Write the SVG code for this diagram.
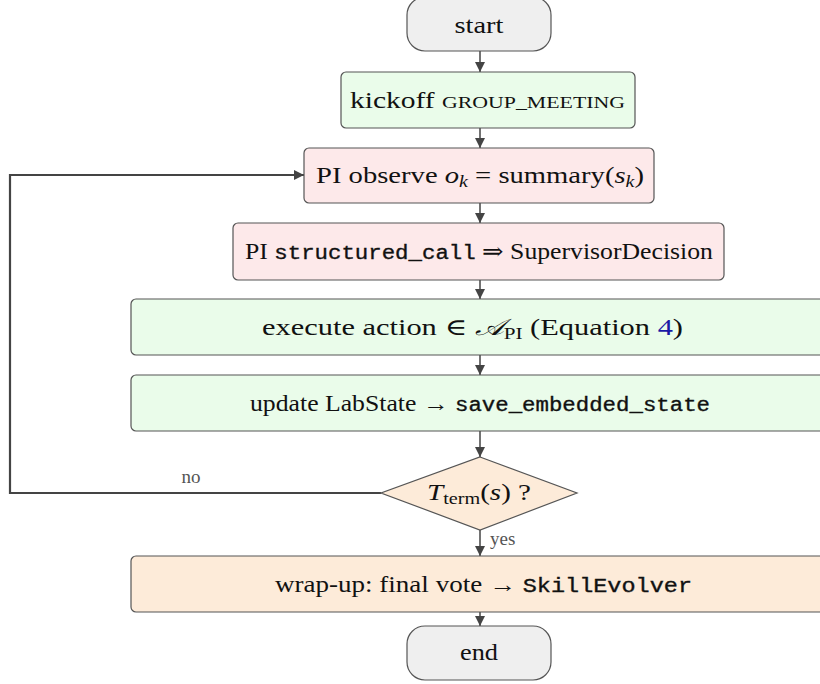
<svg xmlns="http://www.w3.org/2000/svg" width="820" height="684" viewBox="0 0 820 684">
  <defs>
    <marker id="arrow" viewBox="0 0 10 10" refX="10" refY="5" markerWidth="10" markerHeight="10" markerUnits="userSpaceOnUse" orient="auto">
      <path d="M0,0 L10,5 L0,10 z" fill="#444"/>
    </marker>
    <style>
      .box { stroke: #555; stroke-width: 1.2; }
      .term { fill: #efefef; }
      .green { fill: #eafcea; }
      .pink { fill: #fde9ea; }
      .peach { fill: #fdebd9; }
      .lbl { font-family: "Liberation Serif", "DejaVu Serif", serif; font-size: 23px; fill: #111; }
      .tt { font-family: "Liberation Mono", "DejaVu Sans Mono", monospace; font-size: 20px; stroke: #111; stroke-width: 0.35; }
      .it { font-style: italic; }
      .sub { font-size: 16px; }
      .sc { font-size: 17px; }
      .small { font-family: "Liberation Serif", "DejaVu Serif", serif; font-size: 19px; fill: #555; }
      .edge { fill: none; stroke: #444; stroke-width: 1.5; }
      .loop { fill: none; stroke: #444; stroke-width: 2.2; }
    </style>
  </defs>

  <!-- connectors -->
  <g id="connectors">
    <line class="edge" x1="480" y1="51" x2="480" y2="72" marker-end="url(#arrow)"/>
    <line class="edge" x1="480" y1="128" x2="480" y2="148" marker-end="url(#arrow)"/>
    <line class="edge" x1="480" y1="203" x2="480" y2="223" marker-end="url(#arrow)"/>
    <line class="edge" x1="480" y1="280" x2="480" y2="299" marker-end="url(#arrow)"/>
    <line class="edge" x1="480" y1="355" x2="480" y2="375" marker-end="url(#arrow)"/>
    <line class="edge" x1="480" y1="431" x2="480" y2="457" marker-end="url(#arrow)"/>
    <line class="edge" x1="480" y1="530" x2="480" y2="556" marker-end="url(#arrow)"/>
    <line class="edge" x1="480" y1="612" x2="480" y2="626" marker-end="url(#arrow)"/>
    <path class="loop" d="M381,493 H10 V175 H304" marker-end="url(#arrow)"/>
    <text class="small" x="191" y="483" text-anchor="middle">no</text>
    <text class="small" x="490" y="545">yes</text>
  </g>

  <!-- start -->
  <g id="start">
    <rect class="box term" x="407" y="-3" width="144" height="54" rx="18"/>
    <text class="lbl" x="479" y="33" text-anchor="middle" textLength="49" lengthAdjust="spacingAndGlyphs">start</text>
  </g>

  <!-- kickoff -->
  <g id="kickoff">
    <rect class="box green" x="341" y="72" width="294" height="56" rx="5"/>
    <text class="lbl" x="350" y="108" textLength="275" lengthAdjust="spacingAndGlyphs">kickoff <tspan class="sc">GROUP_MEETING</tspan></text>
  </g>

  <!-- observe -->
  <g id="observe">
    <rect class="box pink" x="304" y="148" width="350" height="55" rx="5"/>
    <text class="lbl" x="316" y="183" textLength="328" lengthAdjust="spacingAndGlyphs">PI observe  <tspan class="it">o</tspan><tspan class="sub it" dy="4">k</tspan><tspan dy="-4"> = summary(</tspan><tspan class="it">s</tspan><tspan class="sub it" dy="4">k</tspan><tspan dy="-4">)</tspan></text>
  </g>

  <!-- decision call -->
  <g id="structured">
    <rect class="box pink" x="233" y="223" width="491" height="57" rx="5"/>
    <text class="lbl" x="245" y="259" textLength="468" lengthAdjust="spacingAndGlyphs">PI <tspan class="tt">structured_call</tspan>  ⇒ SupervisorDecision</text>
  </g>

  <!-- execute -->
  <g id="execute">
    <rect class="box green" x="131" y="299" width="700" height="56" rx="5"/>
    <text class="lbl" x="262" y="335" textLength="421" lengthAdjust="spacingAndGlyphs">execute action  ∈ <tspan class="it">𝒜</tspan><tspan class="sub" dy="4">PI</tspan><tspan dy="-4"> (Equation </tspan><tspan fill="#1a1aa6">4</tspan>)</text>
  </g>

  <!-- update -->
  <g id="update">
    <rect class="box green" x="131" y="375" width="700" height="56" rx="5"/>
    <text class="lbl" x="250" y="411" textLength="460" lengthAdjust="spacingAndGlyphs">update LabState  → <tspan class="tt">save_embedded_state</tspan></text>
  </g>

  <!-- termination test -->
  <g id="terminate">
    <polygon class="box peach" points="480,457 577,493 480,530 381,493"/>
    <text class="lbl" x="427" y="500" textLength="104" lengthAdjust="spacingAndGlyphs"><tspan class="it">T</tspan><tspan class="sub" dy="4">term</tspan><tspan dy="-4">(</tspan><tspan class="it">s</tspan>) ?</text>
  </g>

  <!-- wrap-up -->
  <g id="wrapup">
    <rect class="box peach" x="131" y="556" width="700" height="56" rx="5"/>
    <text class="lbl" x="275" y="592" textLength="417" lengthAdjust="spacingAndGlyphs">wrap-up: final vote  → <tspan class="tt">SkillEvolver</tspan></text>
  </g>

  <!-- end -->
  <g id="end">
    <rect class="box term" x="407" y="626" width="144" height="54" rx="18"/>
    <text class="lbl" x="479" y="660" text-anchor="middle" textLength="38" lengthAdjust="spacingAndGlyphs">end</text>
  </g>
</svg>
